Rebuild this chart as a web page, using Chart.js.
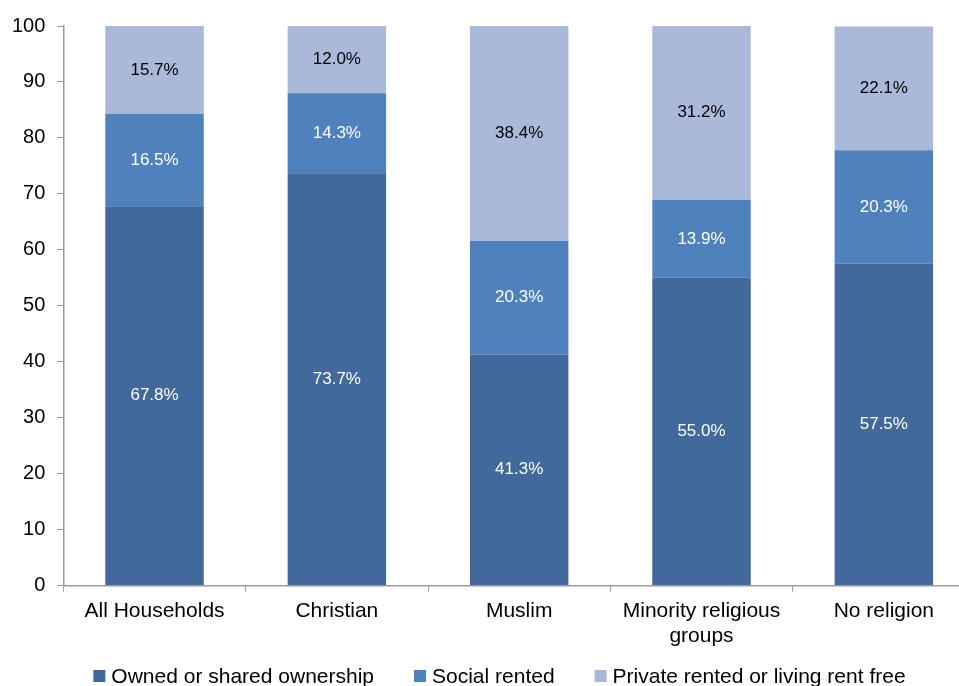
<!DOCTYPE html>
<html>
<head>
<meta charset="utf-8">
<script src="https://cdn.jsdelivr.net/npm/chart.js@4/dist/chart.umd.min.js"></script>
<style>
  html, body { margin: 0; padding: 0; background: #fff; overflow: hidden; }
  #wrap { width: 975px; height: 686px; }
</style>
</head>
<body>
<div id="wrap"><canvas id="myChart"></canvas></div>
<script>
const categories = ['All Households', 'Christian', 'Muslim', ['Minority religious', 'groups'], 'No religion'];
const owned = [67.8, 73.7, 41.3, 55.0, 57.5];
const socialRented = [16.5, 14.3, 20.3, 13.9, 20.3];
const privateRented = [15.7, 12.0, 38.4, 31.2, 22.1];
const yTicks = [0, 10, 20, 30, 40, 50, 60, 70, 80, 90, 100];

const FONT = "'Liberation Sans', Arial, sans-serif";

// writes each segment's share in the middle of the segment
const segmentLabels = {
    id: 'segmentLabels',
    afterDatasetsDraw(chart) {
        const ctx = chart.ctx;
        ctx.save();
        ctx.font = '17px ' + FONT;
        ctx.textAlign = 'center';
        ctx.textBaseline = 'middle';
        chart.data.datasets.forEach((ds, i) => {
            const meta = chart.getDatasetMeta(i);
            ctx.fillStyle = ds.labelColor;
            meta.data.forEach((bar, j) => {
                const p = bar.getCenterPoint();
                ctx.fillText(ds.data[j].toFixed(1) + '%', p.x, p.y);
            });
        });
        ctx.restore();
    }
};

// single-row legend at the foot of the canvas
const footLegend = {
    id: 'footLegend',
    afterDraw(chart) {
        const ctx = chart.ctx;
        const box = 12, gap = 6, spacing = 40;
        const y = chart.height - 10;
        let x = chart.chartArea.left + 30;
        ctx.save();
        ctx.font = '21px ' + FONT;
        ctx.textBaseline = 'middle';
        ctx.textAlign = 'left';
        chart.data.datasets.forEach(ds => {
            ctx.fillStyle = ds.backgroundColor;
            ctx.fillRect(x, y - box / 2, box, box);
            x += box + gap;
            ctx.fillStyle = '#000';
            ctx.fillText(ds.label, x, y + 1);
            x += ctx.measureText(ds.label).width + spacing;
        });
        ctx.restore();
    }
};

document.addEventListener('DOMContentLoaded', function() {
    const ctx = document.getElementById('myChart').getContext('2d');

    new Chart(ctx, {
        type: 'bar',
        data: {
            labels: categories,
            datasets: [{
                label: 'Owned or shared ownership',
                data: owned,
                backgroundColor: '#41699B',
                labelColor: '#ffffff'
            }, {
                label: 'Social rented',
                data: socialRented,
                backgroundColor: '#4F81BD',
                labelColor: '#ffffff'
            }, {
                label: 'Private rented or living rent free',
                data: privateRented,
                backgroundColor: '#AAB9D9',
                labelColor: '#000000'
            }]
        },
        options: {
            responsive: true,
            maintainAspectRatio: false,
            animation: false,
            layout: { padding: { left: 0, top: 26, right: 0, bottom: 30 } },
            datasets: {
                bar: { barPercentage: 0.54, categoryPercentage: 1.0 }
            },
            scales: {
                x: {
                    stacked: true,
                    grid: { drawOnChartArea: false, tickLength: 6, color: '#9a9a9a' },
                    border: { color: '#9a9a9a', width: 1.5 },
                    ticks: { color: '#000', font: { family: FONT, size: 21 }, padding: 7, maxRotation: 0 }
                },
                y: {
                    stacked: true,
                    min: 0,
                    max: 100,
                    afterBuildTicks: axis => { axis.ticks = yTicks.map(v => ({ value: v })); },
                    grid: { drawOnChartArea: false, tickLength: 6, color: '#9a9a9a' },
                    border: { color: '#9a9a9a', width: 1.5 },
                    ticks: { color: '#000', font: { family: FONT, size: 20 }, padding: 12 }
                }
            },
            plugins: {
                tooltip: { enabled: false },
                legend: { display: false }
            }
        },
        plugins: [segmentLabels, footLegend]
    });
});
</script>
</body>
</html>
